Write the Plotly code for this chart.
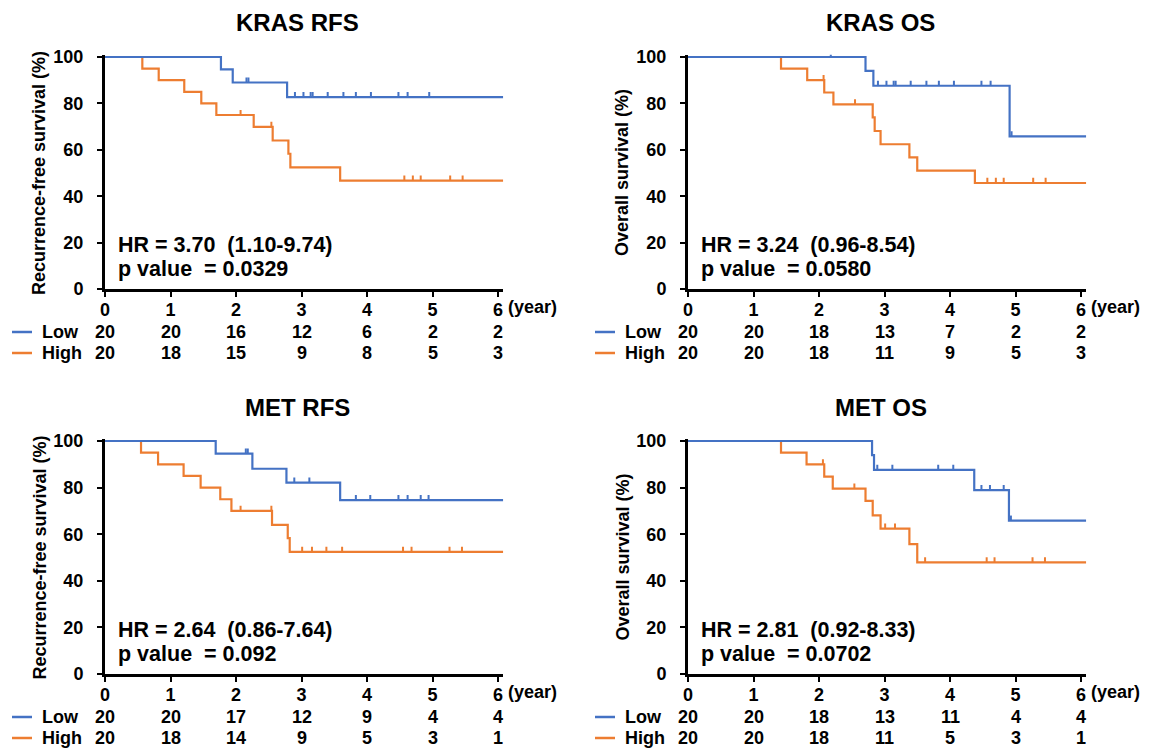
import plotly.graph_objects as go

# ---------------- data ----------------
years = [0, 1, 2, 3, 4, 5, 6]
followup_end = 6.08

# KRAS RFS
kras_rfs_low_t = [1.77, 1.95, 2.78]
kras_rfs_low_s = [94.7, 89.0, 82.7]
kras_rfs_low_c = [2.16, 2.19, 2.90, 3.03, 3.14, 3.17, 3.40, 3.64, 3.83, 4.06, 4.48, 4.62, 4.95]
kras_rfs_high_t = [0.57, 0.82, 1.21, 1.47, 1.70, 2.27, 2.56, 2.80, 2.83, 3.59]
kras_rfs_high_s = [95.0, 90.0, 85.0, 80.0, 75.0, 69.9, 64.0, 58.3, 52.4, 46.7]
kras_rfs_high_c = [2.07, 2.54, 4.57, 4.70, 4.82, 5.27, 5.46]
kras_rfs_risk_low = [20, 20, 16, 12, 6, 2, 2]
kras_rfs_risk_high = [20, 18, 15, 9, 8, 5, 3]

# KRAS OS
kras_os_low_t = [2.71, 2.83, 4.91]
kras_os_low_s = [94.0, 87.6, 65.8]
kras_os_low_c = [2.18, 2.90, 3.03, 3.14, 3.17, 3.40, 3.64, 3.83, 4.06, 4.48, 4.62, 4.94]
kras_os_high_t = [1.42, 1.82, 2.08, 2.22, 2.82, 2.85, 2.94, 3.38, 3.50, 4.38]
kras_os_high_s = [95.0, 90.0, 84.7, 79.6, 74.0, 68.1, 62.4, 56.7, 51.0, 45.7]
kras_os_high_c = [2.07, 2.55, 4.57, 4.70, 4.82, 5.27, 5.46]
kras_os_risk_low = [20, 20, 18, 13, 7, 2, 2]
kras_os_risk_high = [20, 20, 18, 11, 9, 5, 3]

# MET RFS
met_rfs_low_t = [1.69, 2.25, 2.77, 3.59]
met_rfs_low_s = [94.6, 88.1, 82.1, 74.6]
met_rfs_low_c = [2.15, 2.18, 2.89, 3.12, 3.83, 4.05, 4.48, 4.62, 4.82, 4.94]
met_rfs_high_t = [0.55, 0.81, 1.20, 1.46, 1.76, 1.93, 2.55, 2.79, 2.82]
met_rfs_high_s = [95.0, 90.0, 85.0, 80.0, 75.0, 70.0, 64.0, 58.3, 52.4]
met_rfs_high_c = [2.07, 2.54, 3.01, 3.16, 3.38, 3.62, 4.55, 4.68, 5.26, 5.45]
met_rfs_risk_low = [20, 20, 17, 12, 9, 4, 4]
met_rfs_risk_high = [20, 18, 14, 9, 5, 3, 1]

# MET OS
met_os_low_t = [2.81, 2.84, 4.37, 4.90]
met_os_low_s = [93.9, 87.6, 78.9, 65.8]
met_os_low_c = [2.89, 3.12, 3.82, 4.05, 4.48, 4.61, 4.82, 4.93]
met_os_high_t = [1.42, 1.81, 2.08, 2.21, 2.71, 2.82, 2.94, 3.38, 3.50]
met_os_high_s = [95.0, 90.0, 84.7, 79.6, 74.3, 68.1, 62.4, 55.7, 47.9]
met_os_high_c = [2.06, 2.54, 3.01, 3.16, 3.62, 4.56, 4.68, 5.26, 5.45]
met_os_risk_low = [20, 20, 18, 13, 11, 4, 4]
met_os_risk_high = [20, 20, 18, 11, 5, 3, 1]

titles = ["KRAS RFS", "KRAS OS", "MET RFS", "MET OS"]
ytitles = ["Recurrence-free survival (%)", "Overall survival (%)",
           "Recurrence-free survival (%)", "Overall survival (%)"]
hr_texts = ["HR\u00a0=\u00a03.70\u00a0\u00a0(1.10-9.74)", "HR\u00a0=\u00a03.24\u00a0\u00a0(0.96-8.54)",
            "HR\u00a0=\u00a02.64\u00a0\u00a0(0.86-7.64)", "HR\u00a0=\u00a02.81\u00a0\u00a0(0.92-8.33)"]
p_texts = ["p value\u00a0\u00a0=\u00a00.0329", "p value\u00a0\u00a0=\u00a00.0580",
           "p value\u00a0\u00a0=\u00a00.092", "p value\u00a0\u00a0=\u00a00.0702"]
group_names = ["Low", "High"]

# ---------------- styling ----------------
PAGE_OFF = 8              # default page body margin
W, H = 1149 - PAGE_OFF, 750 - PAGE_OFF
BLUE = "#4472C4"
ORANGE = "#ED7D31"
FONT = "Liberation Sans"

def px_x(x):
    return (x - PAGE_OFF) / W

def px_y(y):
    return (H - (y - PAGE_OFF)) / H

# panel pixel geometry in window pixels: (x at t=0, y at S=100, y at S=0)
panel_geom = [
    (105, 57, 289),
    (688, 57, 289),
    (105, 441, 674),
    (688, 441, 674),
]
PX_PER_YEAR = 65.5

def step_xy(t, s):
    xs = [0] + list(t) + [followup_end]
    ys = [100] + list(s) + [s[-1]]
    return xs, ys

def surv_at(c, t, s):
    val = 100
    for ti, si in zip(t, s):
        if c >= ti:
            val = si
    return val

def censor_xy(cens, t, s, h=2.2):
    xs, ys = [], []
    for c in cens:
        v = surv_at(c, t, s)
        xs += [c, c, None]
        ys += [v, v + h, None]
    return xs, ys

panels = [
    (kras_rfs_low_t, kras_rfs_low_s, kras_rfs_low_c, kras_rfs_high_t, kras_rfs_high_s, kras_rfs_high_c,
     kras_rfs_risk_low, kras_rfs_risk_high),
    (kras_os_low_t, kras_os_low_s, kras_os_low_c, kras_os_high_t, kras_os_high_s, kras_os_high_c,
     kras_os_risk_low, kras_os_risk_high),
    (met_rfs_low_t, met_rfs_low_s, met_rfs_low_c, met_rfs_high_t, met_rfs_high_s, met_rfs_high_c,
     met_rfs_risk_low, met_rfs_risk_high),
    (met_os_low_t, met_os_low_s, met_os_low_c, met_os_high_t, met_os_high_s, met_os_high_c,
     met_os_risk_low, met_os_risk_high),
]

fig = go.Figure()
annotations = []
shapes = []
layout_axes = {}

TICKFONT = dict(family=FONT, size=18, color="black", weight="bold")

for i, (lt, ls, lc, ht, hs, hc, rl, rh) in enumerate(panels):
    n = i + 1
    xa = "x" if n == 1 else f"x{n}"
    ya = "y" if n == 1 else f"y{n}"
    x0px, y100px, y0px = panel_geom[i]
    x1px = x0px + PX_PER_YEAR * followup_end
    ppu = (y0px - y100px) / 100.0
    ytop = y100px - ppu * 1.0  # range up to 101

    for (t, s, c, col) in [(ht, hs, hc, ORANGE), (lt, ls, lc, BLUE)]:
        xs, ys = step_xy(t, s)
        fig.add_trace(go.Scatter(x=xs, y=ys, mode="lines", line=dict(color=col, width=2.2, shape="hv"),
                                 xaxis=xa, yaxis=ya, showlegend=False, hoverinfo="skip"))
        cx, cy = censor_xy(c, t, s)
        fig.add_trace(go.Scatter(x=cx, y=cy, mode="lines", line=dict(color=col, width=2),
                                 xaxis=xa, yaxis=ya, showlegend=False, hoverinfo="skip"))

    kx = "xaxis" if n == 1 else f"xaxis{n}"
    ky = "yaxis" if n == 1 else f"yaxis{n}"
    layout_axes[kx] = dict(
        domain=[px_x(x0px), px_x(x1px)], anchor=ya, range=[0, followup_end],
        tickvals=years, ticktext=[str(v) for v in years],
        showline=True, linecolor="black", linewidth=2.5,
        ticks="outside", ticklen=5, tickwidth=2, tickcolor="black",
        showgrid=False, zeroline=False, automargin=False,
        tickfont=TICKFONT, ticklabelstandoff=-2,
        fixedrange=True,
    )
    layout_axes[ky] = dict(
        domain=[px_y(y0px), px_y(ytop)], anchor=xa, range=[0, 101],
        tickvals=[0, 20, 40, 60, 80, 100],
        showline=True, linecolor="black", linewidth=3,
        ticks="outside", ticklen=5, tickwidth=2, tickcolor="black",
        showgrid=False, zeroline=False, automargin=False,
        tickfont=TICKFONT, ticklabelstandoff=10,
        fixedrange=True,
    )

    # title
    annotations.append(dict(text=f"<b>{titles[i]}</b>", x=px_x(x0px + PX_PER_YEAR * 3 - 4),
                            y=px_y(y100px - 34), xref="paper", yref="paper", showarrow=False,
                            font=dict(family=FONT, size=24, color="black"), xanchor="center", yanchor="middle"))
    # y title
    annotations.append(dict(text=ytitles[i], x=px_x(x0px - 66), y=px_y((y100px + y0px) / 2),
                            xref="paper", yref="paper", showarrow=False, textangle=-90,
                            font=dict(family=FONT, size=18, color="black", weight="bold"),
                            xanchor="center", yanchor="middle"))
    # HR / p
    annotations.append(dict(text=hr_texts[i], x=px_x(x0px + 11), y=px_y(y0px - 44),
                            xref="paper", yref="paper", showarrow=False, xanchor="left", yanchor="middle",
                            font=dict(family=FONT, size=21.5, color="black", weight="bold")))
    annotations.append(dict(text=p_texts[i], x=px_x(x0px + 11), y=px_y(y0px - 20),
                            xref="paper", yref="paper", showarrow=False, xanchor="left", yanchor="middle",
                            font=dict(family=FONT, size=21.5, color="black", weight="bold")))
    # (year)
    annotations.append(dict(text="(year)", x=px_x(x0px + PX_PER_YEAR * 6 + 8), y=px_y(y0px + 18),
                            xref="paper", yref="paper", showarrow=False, xanchor="left", yanchor="middle",
                            font=dict(family=FONT, size=18, color="black", weight="bold")))
    # at-risk table
    for r, (row, col, name) in enumerate([(rl, BLUE, group_names[0]), (rh, ORANGE, group_names[1])]):
        ry = y0px + 43 + r * 21
        for yv, cnt in zip(years, row):
            annotations.append(dict(text=str(cnt), x=yv, y=px_y(ry), xref=xa, yref="paper",
                                    showarrow=False, xanchor="center", yanchor="middle",
                                    font=dict(family=FONT, size=18, color="black", weight="bold")))
        lx0 = x0px - 93
        shapes.append(dict(type="line", xref="paper", yref="paper",
                           x0=px_x(lx0), x1=px_x(lx0 + 20), y0=px_y(ry), y1=px_y(ry),
                           line=dict(color=col, width=2.5)))
        annotations.append(dict(text=name, x=px_x(lx0 + 28), y=px_y(ry), xref="paper", yref="paper",
                                showarrow=False, xanchor="left", yanchor="middle",
                                font=dict(family=FONT, size=18, color="black", weight="bold")))

fig.update_layout(
    width=W, height=H, margin=dict(l=0, r=0, t=0, b=0, autoexpand=False),
    paper_bgcolor="white", plot_bgcolor="white",
    annotations=annotations, shapes=shapes,
    **layout_axes,
)

fig.write_html("out.html")
